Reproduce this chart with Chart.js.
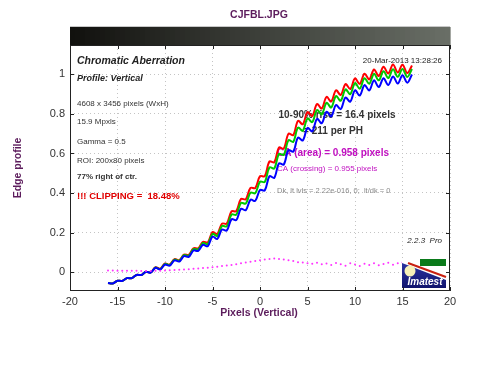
<!DOCTYPE html>
<html>
<head>
<meta charset="utf-8">
<title>CJFBL.JPG</title>
<script src="https://cdn.jsdelivr.net/npm/chart.js@4.4.1/dist/chart.umd.min.js"></script>
<style>
  html, body { margin: 0; padding: 0; background: #fff; }
  #wrap { width: 500px; height: 384px; }
</style>
</head>
<body>
<div id="wrap"><canvas id="edgeChart" width="500" height="384"></canvas></div>
<script>
// edge profile samples (pixels across the edge)
const pixels = [-16, -15.5, -15, -14.5, -14, -13.5, -13, -12.5, -12, -11.5, -11, -10.5, -10, -9.5, -9, -8.5,
  -8, -7.5, -7, -6.5, -6, -5.5, -5, -4.5, -4, -3.5, -3, -2.5, -2, -1.5, -1, -0.5,
  0, 0.5, 1, 1.5, 2, 2.5, 3, 3.5, 4, 4.5, 5, 5.5, 6, 6.5, 7, 7.5,
  8, 8.5, 9, 9.5, 10, 10.5, 11, 11.5, 12, 12.5, 13, 13.5, 14, 14.5, 15, 15.5, 16];

const redEdge = [-0.056, -0.058, -0.044, -0.045, -0.031, -0.031, -0.015, -0.015, 0.001, -0.002, 0.024, 0.017, 0.043, 0.038, 0.065, 0.060,
  0.088, 0.087, 0.120, 0.120, 0.153, 0.150, 0.202, 0.193, 0.245, 0.245, 0.307, 0.308, 0.370, 0.368, 0.426, 0.425,
  0.485, 0.485, 0.560, 0.555, 0.630, 0.625, 0.700, 0.693, 0.765, 0.748, 0.809, 0.790, 0.850, 0.828, 0.886, 0.863,
  0.920, 0.896, 0.951, 0.926, 0.980, 0.952, 1.004, 0.975, 1.025, 0.992, 1.039, 1.005, 1.050, 1.010, 1.049, 1.007, 1.045];

const greenEdge = [-0.056, -0.058, -0.044, -0.045, -0.031, -0.031, -0.015, -0.015, 0.001, -0.002, 0.023, 0.015, 0.041, 0.036, 0.063, 0.057,
  0.085, 0.083, 0.116, 0.115, 0.147, 0.142, 0.193, 0.183, 0.233, 0.231, 0.291, 0.290, 0.350, 0.346, 0.402, 0.399,
  0.457, 0.456, 0.530, 0.524, 0.598, 0.593, 0.667, 0.659, 0.731, 0.715, 0.777, 0.759, 0.820, 0.798, 0.856, 0.833,
  0.890, 0.867, 0.924, 0.900, 0.956, 0.928, 0.981, 0.953, 1.003, 0.970, 1.016, 0.982, 1.026, 0.988, 1.028, 0.987, 1.027];

const blueEdge = [-0.056, -0.058, -0.044, -0.045, -0.031, -0.031, -0.015, -0.015, 0.001, -0.003, 0.022, 0.013, 0.038, 0.032, 0.059, 0.053,
  0.080, 0.077, 0.109, 0.107, 0.138, 0.131, 0.180, 0.167, 0.215, 0.210, 0.267, 0.263, 0.320, 0.313, 0.366, 0.360,
  0.415, 0.413, 0.485, 0.477, 0.550, 0.544, 0.617, 0.609, 0.680, 0.666, 0.729, 0.712, 0.775, 0.753, 0.811, 0.788,
  0.845, 0.825, 0.883, 0.862, 0.920, 0.893, 0.946, 0.919, 0.970, 0.936, 0.981, 0.946, 0.990, 0.954, 0.996, 0.958, 1.000];

// difference curve (magenta dots)
const caDiff = [0.008, 0.008, 0.007, 0.007, 0.006, 0.006, 0.006, 0.005, 0.005, 0.005, 0.006, 0.007, 0.008, 0.009, 0.010, 0.011,
  0.013, 0.014, 0.016, 0.018, 0.020, 0.022, 0.024, 0.027, 0.030, 0.033, 0.036, 0.040, 0.044, 0.048, 0.052, 0.056,
  0.060, 0.063, 0.066, 0.068, 0.066, 0.063, 0.060, 0.056, 0.050, 0.048, 0.045, 0.042, 0.047, 0.040, 0.043, 0.035,
  0.046, 0.040, 0.032, 0.044, 0.038, 0.030, 0.042, 0.036, 0.045, 0.034, 0.041, 0.047, 0.037, 0.044, 0.048, 0.040, 0.046];

const xTicks = [-20, -15, -10, -5, 0, 5, 10, 15, 20];
const yTicks = [0, 0.2, 0.4, 0.6, 0.8, 1];

const FONT = "'Liberation Sans', Arial, sans-serif";
const PURPLE = '#5c1c5c';

function toPoints(ys) {
  return pixels.map((p, i) => ({ x: p, y: ys[i] }));
}

function text(ctx, s, x, y, font, color, align) {
  ctx.font = font;
  ctx.fillStyle = color;
  ctx.textAlign = align || 'left';
  ctx.textBaseline = 'middle';
  ctx.fillText(s, x, y);
}

// everything that is not a data series: header strip, notes, frame, logo
const imatestDecor = {
  id: 'imatestDecor',
  beforeDatasetsDraw(chart) {
    const ctx = chart.ctx;
    const a = chart.chartArea;
    ctx.save();

    // grey-scale strip above the plot
    const steps = 76;
    const w = (a.right - a.left) / steps;
    for (let i = 0; i < steps; i++) {
      const t = i / (steps - 1);
      const r = Math.round(17 + t * 88), g = Math.round(17 + t * 93), b = Math.round(14 + t * 88);
      ctx.fillStyle = 'rgb(' + r + ',' + g + ',' + b + ')';
      ctx.fillRect(a.left + i * w, 27, w + 0.6, a.top - 27);
    }
    ctx.strokeStyle = '#c8c8c8';
    ctx.beginPath();
    ctx.moveTo(a.left, 26.5);
    ctx.lineTo(a.right, 26.5);
    ctx.stroke();

    // title and axis titles
    text(ctx, 'CJFBL.JPG', 259, 15, 'bold 10.5px ' + FONT, PURPLE, 'center');
    text(ctx, 'Pixels (Vertical)', 259, 313, 'bold 10.5px ' + FONT, PURPLE, 'center');
    ctx.save();
    ctx.translate(18, (a.top + a.bottom) / 2);
    ctx.rotate(-Math.PI / 2);
    text(ctx, 'Edge profile', 0, 0, 'bold 10.5px ' + FONT, PURPLE, 'center');
    ctx.restore();

    // notes on the left
    text(ctx, 'Chromatic Aberration', 77, 61, 'italic bold 10.5px ' + FONT, '#222', 'left');
    text(ctx, 'Profile: Vertical', 77, 79, 'italic bold 9px ' + FONT, '#222', 'left');
    text(ctx, '4608 x 3456 pixels (WxH)', 77, 104, '8px ' + FONT, '#333', 'left');
    text(ctx, '15.9 Mpxls', 77, 122, '8px ' + FONT, '#333', 'left');
    text(ctx, 'Gamma = 0.5', 77, 142, '8px ' + FONT, '#333', 'left');
    text(ctx, 'ROI: 200x80 pixels', 77, 161, '8px ' + FONT, '#333', 'left');
    text(ctx, '77% right of ctr.', 77, 177, 'bold 8px ' + FONT, '#333', 'left');
    text(ctx, '!!! CLIPPING =  18.48%', 77, 196, 'bold 9.5px ' + FONT, '#e00000', 'left');

    // notes on the right
    text(ctx, '20-Mar-2013 13:28:26', 442, 61, '8px ' + FONT, '#222', 'right');
    text(ctx, '10-90% rise = 16.4 pixels', 337, 115, 'bold 10px ' + FONT, '#333', 'center');
    text(ctx, '= 211 per PH', 333, 131, 'bold 10px ' + FONT, '#333', 'center');
    text(ctx, 'CA (area) = 0.958 pixels', 277, 153, 'bold 10px ' + FONT, '#c010c0', 'left');
    text(ctx, 'CA (crossing) = 0.955 pixels', 277, 169, '8px ' + FONT, '#c010c0', 'left');
    text(ctx, 'Dk, lt lvls = 2.22e-016, 0;  lt/dk = 0', 277, 191, '7.5px ' + FONT, '#888', 'left');
    text(ctx, '2.2.3  Pro', 442, 241, 'italic 8px ' + FONT, '#222', 'right');
    ctx.restore();
  },
  afterDatasetsDraw(chart) {
    const ctx = chart.ctx;
    const a = chart.chartArea;
    const xs = chart.scales.x, ys = chart.scales.y;
    ctx.save();

    // Imatest logo, bottom right
    const lx = 402, ly = 259, lw = 44, lh = 29;
    const grad = ctx.createLinearGradient(0, ly, 0, ly + lh);
    grad.addColorStop(0, '#3038a8');
    grad.addColorStop(1, '#10146e');
    ctx.fillStyle = grad;
    ctx.fillRect(lx, ly, lw, lh);
    ctx.fillStyle = '#fff';
    ctx.beginPath();
    ctx.moveTo(lx, ly);
    ctx.lineTo(lx + lw, ly);
    ctx.lineTo(lx + lw, ly + 21);
    ctx.lineTo(lx, ly + 4);
    ctx.closePath();
    ctx.fill();
    ctx.fillStyle = '#0a7a1a';
    ctx.fillRect(lx + 18, ly, lw - 18, 7);
    ctx.strokeStyle = '#c82010';
    ctx.lineWidth = 2;
    ctx.beginPath();
    ctx.moveTo(lx + 6, ly + 4);
    ctx.lineTo(lx + lw, ly + 18);
    ctx.stroke();
    ctx.fillStyle = '#f6f0b8';
    ctx.beginPath();
    ctx.arc(lx + 8, ly + 12, 5.5, 0, Math.PI * 2);
    ctx.fill();
    text(ctx, 'Imatest', lx + lw / 2 + 1, ly + 23, 'italic bold 10px ' + FONT, '#fff', 'center');

    // frame with inward tick marks on all four sides
    ctx.strokeStyle = '#222';
    ctx.lineWidth = 1;
    ctx.strokeRect(a.left + 0.5, a.top + 0.5, a.right - a.left - 1, a.bottom - a.top - 1);
    ctx.beginPath();
    xTicks.forEach(v => {
      const px = Math.round(xs.getPixelForValue(v)) + 0.5;
      ctx.moveTo(px, a.bottom);
      ctx.lineTo(px, a.bottom - 4);
      ctx.moveTo(px, a.top);
      ctx.lineTo(px, a.top + 4);
    });
    yTicks.forEach(v => {
      const py = Math.round(ys.getPixelForValue(v)) + 0.5;
      ctx.moveTo(a.left, py);
      ctx.lineTo(a.left + 4, py);
      ctx.moveTo(a.right, py);
      ctx.lineTo(a.right - 4, py);
    });
    ctx.stroke();
    ctx.restore();
  }
};

const ctx = document.getElementById('edgeChart').getContext('2d');
const edgeChart = new Chart(ctx, {
  type: 'line',
  data: {
    datasets: [
      // higher order is drawn first, so blue ends up on top like the original
      { label: 'Red', data: toPoints(redEdge), borderColor: '#ff0000', borderWidth: 2, pointRadius: 0, tension: 0.35, order: 3 },
      { label: 'Green', data: toPoints(greenEdge), borderColor: '#00c800', borderWidth: 2, pointRadius: 0, tension: 0.35, order: 2 },
      { label: 'Blue', data: toPoints(blueEdge), borderColor: '#0000ff', borderWidth: 2, pointRadius: 0, tension: 0.35, order: 1 },
      { label: 'Diff', data: toPoints(caDiff), showLine: false, pointRadius: 1, pointBorderWidth: 0,
        pointBackgroundColor: '#ff33ff', backgroundColor: '#ff33ff', order: 0 }
    ]
  },
  plugins: [imatestDecor],
  options: {
    responsive: false,
    animation: false,
    layout: { padding: { left: 0, right: 50, top: 45, bottom: 0 } },
    plugins: {
      legend: { display: false },
      title: { display: false },
      tooltip: { enabled: false }
    },
    scales: {
      x: {
        type: 'linear',
        min: -20,
        max: 20,
        afterBuildTicks: s => { s.ticks = xTicks.map(v => ({ value: v })); },
        afterFit: s => { s.height = 93; },
        grid: { color: '#c4c4c4', drawTicks: false },
        border: { display: false, dash: [1, 3] },
        ticks: { padding: 4, color: '#333', maxRotation: 0, autoSkip: false, font: { family: FONT, size: 11 } }
      },
      y: {
        min: -0.096,
        max: 1.149,
        afterBuildTicks: s => { s.ticks = yTicks.map(v => ({ value: v })); },
        afterFit: s => { s.width = 70; },
        grid: { color: '#c4c4c4', drawTicks: false },
        border: { display: false, dash: [1, 3] },
        ticks: {
          padding: 5, color: '#333', font: { family: FONT, size: 11 },
          callback: v => String(Math.round(v * 10) / 10)
        }
      }
    }
  }
});
</script>
</body>
</html>
